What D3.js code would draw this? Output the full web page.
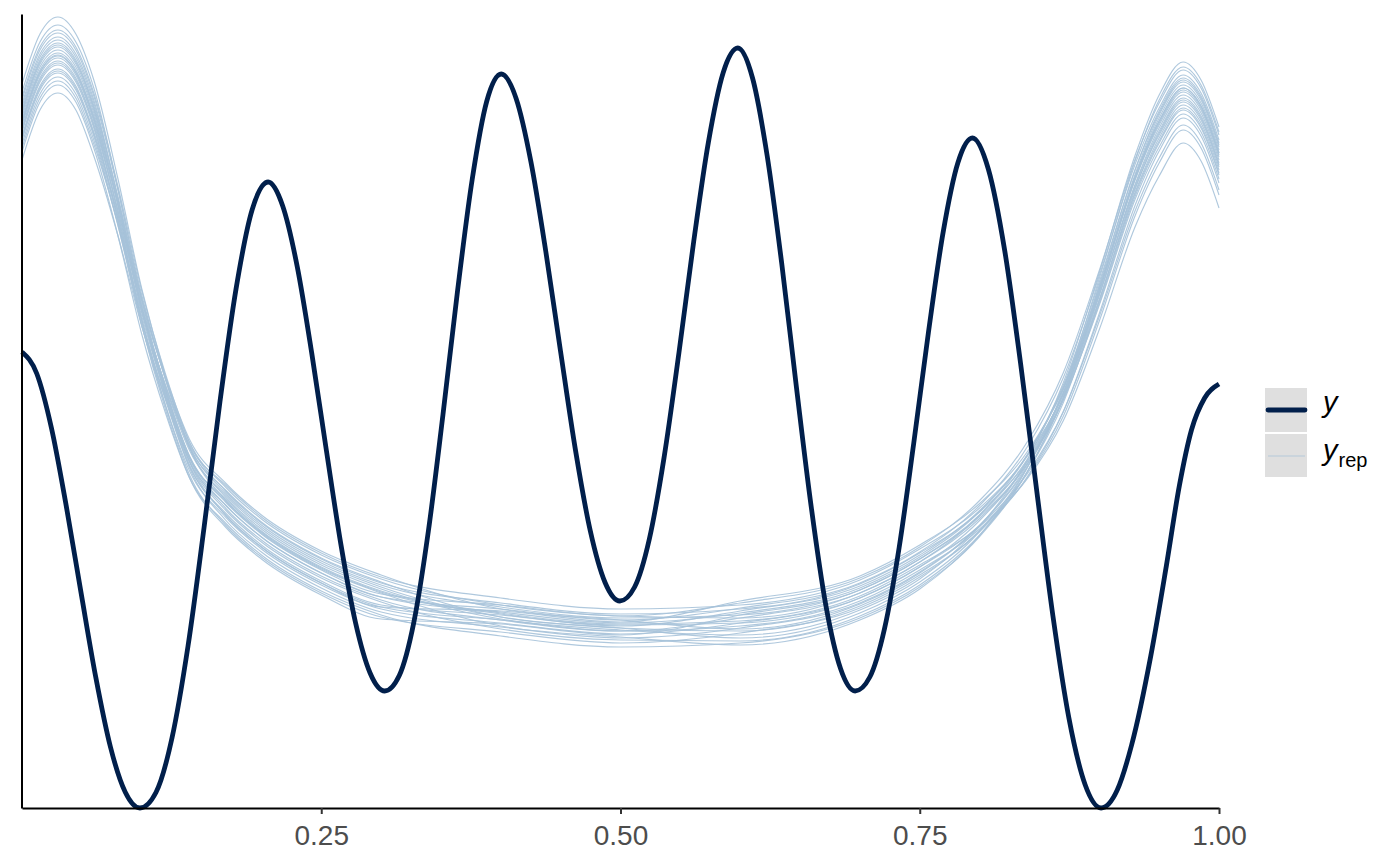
<!DOCTYPE html>
<html><head><meta charset="utf-8">
<script src="https://cdn.jsdelivr.net/npm/d3@7"></script>
<style>html,body{margin:0;padding:0;background:#fff;} svg{display:block;font-family:"Liberation Sans",Arial,sans-serif;}</style>
</head><body><svg id="chart" width="1400" height="865"></svg>
<script>
const xTicks = [0.25, 0.5, 0.75, 1.0];
const xTickLabels = ["0.25", "0.50", "0.75", "1.00"];
const legendLabels = ["y", "y", "rep"];

const obsX = [0,0.0123,0.0246,0.0369,0.0493,0.0616,0.0739,0.0862,0.0985,
  0.1119,0.1253,0.1387,0.1521,0.1654,0.1788,0.1922,0.2056,
  0.2178,0.2300,0.2421,0.2543,0.2665,0.2787,0.2908,0.3030,
  0.3152,0.3274,0.3395,0.3517,0.3639,0.3761,0.3882,0.4004,
  0.4128,0.4252,0.4376,0.4500,0.4623,0.4747,0.4871,0.4995,
  0.5118,0.5241,0.5364,0.5488,0.5611,0.5734,0.5857,0.5980,
  0.6103,0.6225,0.6348,0.6470,0.6593,0.6715,0.6838,0.6960,
  0.7083,0.7205,0.7328,0.7450,0.7573,0.7695,0.7818,0.7940,
  0.8074,0.8209,0.8343,0.8478,0.8612,0.8746,0.8881,0.9015,
  0.915,0.927,0.943,0.956,0.967,0.977,0.988,1.000];
const obsDensity = [0.912,0.869,0.760,0.605,0.431,0.262,0.122,0.032,0.000,
  0.031,0.140,0.324,0.561,0.813,1.038,1.196,1.252,
  1.204,1.082,0.909,0.715,0.526,0.370,0.270,0.234,
  0.265,0.372,0.554,0.787,1.035,1.257,1.413,1.468,
  1.419,1.292,1.113,0.912,0.717,0.555,0.451,0.414,
  0.442,0.538,0.701,0.910,1.132,1.331,1.470,1.520,
  1.460,1.305,1.087,0.841,0.603,0.406,0.279,0.234,
  0.262,0.358,0.521,0.730,0.952,1.151,1.290,1.340,
  1.277,1.116,0.888,0.633,0.385,0.180,0.047,0.000,
  0.036,0.126,0.304,0.484,0.646,0.756,0.820,0.848];

const repX = [0,0.015,0.03,0.045,0.06,0.08,0.1,0.12,0.14,0.17,0.2,0.25,0.3,0.4,0.5,0.6,0.7,0.75,0.8,0.84,0.87,0.9,0.93,0.95,0.97,0.985,1.0];
const rep01 = [1.448,1.548,1.582,1.548,1.456,1.260,1.039,0.862,0.720,0.616,0.552,0.480,0.432,0.388,0.366,0.370,0.420,0.482,0.575,0.693,0.831,1.035,1.258,1.370,1.436,1.400,1.306];
const rep02 = [1.432,1.532,1.566,1.532,1.440,1.240,1.016,0.836,0.692,0.586,0.522,0.450,0.402,0.376,0.354,0.380,0.430,0.492,0.586,0.706,0.846,1.052,1.277,1.390,1.456,1.420,1.326];
const rep03 = [1.416,1.516,1.550,1.516,1.424,1.237,1.026,0.856,0.720,0.622,0.558,0.486,0.438,0.378,0.356,0.346,0.396,0.458,0.563,0.697,0.851,1.071,1.306,1.426,1.492,1.456,1.362];
const rep04 = [1.408,1.508,1.542,1.508,1.416,1.220,0.999,0.822,0.680,0.576,0.512,0.440,0.392,0.362,0.340,0.360,0.410,0.472,0.565,0.683,0.821,1.025,1.248,1.360,1.426,1.390,1.296];
const rep05 = [1.396,1.496,1.530,1.496,1.404,1.224,1.020,0.856,0.724,0.630,0.566,0.494,0.446,0.402,0.380,0.386,0.436,0.498,0.583,0.689,0.816,1.009,1.224,1.330,1.396,1.360,1.266];
const rep06 = [1.388,1.488,1.522,1.488,1.396,1.212,1.004,0.837,0.702,0.606,0.542,0.470,0.422,0.398,0.376,0.400,0.450,0.512,0.605,0.723,0.861,1.065,1.288,1.400,1.466,1.430,1.336];
const rep07 = [1.382,1.482,1.516,1.482,1.390,1.205,0.996,0.828,0.693,0.596,0.532,0.460,0.412,0.358,0.336,0.334,0.384,0.446,0.546,0.673,0.820,1.034,1.263,1.380,1.446,1.410,1.316];
const rep08 = [1.376,1.476,1.510,1.476,1.384,1.212,1.016,0.858,0.731,0.642,0.578,0.506,0.458,0.406,0.384,0.380,0.430,0.492,0.579,0.689,0.819,1.015,1.232,1.340,1.406,1.370,1.276];
const rep09 = [1.372,1.472,1.506,1.472,1.380,1.190,0.976,0.804,0.666,0.566,0.502,0.430,0.382,0.352,0.330,0.350,0.400,0.462,0.555,0.673,0.811,1.015,1.238,1.350,1.416,1.380,1.286];
const rep10 = [1.366,1.466,1.500,1.466,1.374,1.197,0.996,0.834,0.704,0.612,0.548,0.476,0.428,0.406,0.384,0.410,0.460,0.522,0.615,0.733,0.871,1.075,1.298,1.410,1.476,1.440,1.346];
const rep11 = [1.360,1.460,1.494,1.460,1.368,1.196,1.000,0.842,0.715,0.626,0.562,0.490,0.442,0.382,0.360,0.354,0.404,0.466,0.553,0.663,0.793,0.989,1.206,1.314,1.380,1.344,1.250];
const rep12 = [1.352,1.452,1.486,1.452,1.360,1.181,0.978,0.815,0.683,0.590,0.526,0.454,0.406,0.386,0.364,0.394,0.444,0.506,0.595,0.707,0.840,1.038,1.257,1.366,1.432,1.396,1.302];
const rep13 = [1.344,1.444,1.478,1.444,1.352,1.187,0.997,0.845,0.721,0.636,0.572,0.500,0.452,0.382,0.360,0.340,0.390,0.452,0.553,0.682,0.831,1.046,1.277,1.394,1.460,1.424,1.330];
const rep14 = [1.336,1.436,1.470,1.436,1.344,1.167,0.966,0.804,0.674,0.582,0.518,0.446,0.398,0.370,0.348,0.370,0.420,0.482,0.565,0.669,0.793,0.983,1.195,1.300,1.366,1.330,1.236];
const rep15 = [1.328,1.428,1.462,1.428,1.336,1.167,0.974,0.819,0.693,0.606,0.542,0.470,0.422,0.392,0.370,0.390,0.440,0.502,0.593,0.707,0.842,1.043,1.264,1.374,1.440,1.404,1.310];
const rep16 = [1.320,1.420,1.454,1.420,1.328,1.171,0.990,0.844,0.726,0.646,0.582,0.510,0.462,0.420,0.398,0.406,0.456,0.518,0.600,0.704,0.827,1.017,1.229,1.334,1.400,1.364,1.270];
const rep17 = [1.312,1.412,1.446,1.412,1.320,1.146,0.948,0.789,0.660,0.570,0.506,0.434,0.386,0.344,0.322,0.330,0.380,0.442,0.543,0.673,0.822,1.037,1.268,1.386,1.452,1.416,1.322];
const rep18 = [1.296,1.396,1.430,1.396,1.304,1.146,0.964,0.818,0.699,0.618,0.554,0.482,0.434,0.390,0.368,0.374,0.424,0.486,0.563,0.659,0.775,0.957,1.163,1.264,1.330,1.294,1.200];
const rep19 = [1.402,1.502,1.536,1.502,1.410,1.221,1.008,0.837,0.699,0.600,0.536,0.464,0.416,0.376,0.354,0.364,0.414,0.476,0.558,0.661,0.784,0.974,1.185,1.290,1.356,1.320,1.226];
const rep20 = [1.356,1.456,1.490,1.456,1.364,1.177,0.966,0.796,0.660,0.562,0.498,0.426,0.378,0.368,0.346,0.386,0.436,0.498,0.586,0.698,0.829,1.027,1.245,1.354,1.420,1.384,1.290];
const rep21 = [1.422,1.522,1.556,1.522,1.430,1.245,1.035,0.867,0.731,0.634,0.570,0.498,0.450,0.410,0.388,0.398,0.448,0.510,0.592,0.694,0.817,1.006,1.218,1.322,1.388,1.352,1.258];
const rep22 = [1.340,1.440,1.474,1.440,1.348,1.178,0.984,0.828,0.702,0.614,0.550,0.478,0.430,0.364,0.342,0.326,0.376,0.438,0.545,0.681,0.837,1.059,1.295,1.416,1.482,1.446,1.352];
const rep23 = [1.392,1.492,1.526,1.492,1.400,1.210,0.996,0.824,0.686,0.586,0.522,0.450,0.402,0.394,0.372,0.414,0.464,0.526,0.609,0.713,0.838,1.028,1.241,1.346,1.412,1.376,1.282];
const rep24 = [1.370,1.470,1.504,1.470,1.378,1.210,1.017,0.862,0.737,0.650,0.586,0.514,0.466,0.398,0.376,0.358,0.408,0.470,0.565,0.687,0.828,1.035,1.260,1.374,1.440,1.404,1.310];
const yrepSeries = [rep01,rep02,rep03,rep04,rep05,rep06,rep07,rep08,rep09,rep10,rep11,rep12,rep13,rep14,rep15,rep16,rep17,rep18,rep19,rep20,rep21,rep22,rep23,rep24];

const colorY = "#011f4b";
const colorYrep = "#a6c2d9";

const svg = d3.select("#chart");
const x = d3.scaleLinear().domain([0, 1]).range([22, 1219]);
const y = d3.scaleLinear().domain([0, 1.588]).range([808, 14]);
const lineGen = d3.line().x(d => x(d[0])).y(d => y(d[1])).curve(d3.curveMonotoneX);

const gRep = svg.append("g");
yrepSeries.forEach(s => {
  gRep.append("path")
    .datum(repX.map((v, i) => [v, s[i]]))
    .attr("d", lineGen)
    .attr("fill", "none")
    .attr("stroke", colorYrep)
    .attr("stroke-opacity", 0.9)
    .attr("stroke-width", 1.15);
});

svg.append("path")
  .datum(obsX.map((v, i) => [v, obsDensity[i]]))
  .attr("d", lineGen)
  .attr("fill", "none")
  .attr("stroke", colorY)
  .attr("stroke-width", 4.8)
  .attr("stroke-linejoin", "round");

// axes
const xAxis = d3.axisBottom(x).tickValues(xTicks).tickFormat((d, i) => xTickLabels[i]).tickSize(6).tickSizeOuter(0);
const gx = svg.append("g").attr("transform", "translate(0,808)").call(xAxis);
gx.select(".domain").attr("stroke", "#000").attr("stroke-width", 2);
gx.selectAll(".tick line").attr("stroke", "#333").attr("stroke-width", 2);
gx.selectAll(".tick text").attr("y", 37).attr("dy", 0).attr("font-size", 28)
  .attr("fill", "#4d4d4d").attr("font-family", "'Liberation Sans', Arial, sans-serif");

const yAxis = d3.axisLeft(y).tickValues([]).tickSizeOuter(0);
const gy = svg.append("g").attr("transform", "translate(21.5,0)").call(yAxis);
gy.select(".domain").attr("stroke", "#000").attr("stroke-width", 2);

// legend
const lg = svg.append("g");
lg.append("rect").attr("x", 1265).attr("y", 388).attr("width", 42).attr("height", 44).attr("fill", "#dfdfdf");
lg.append("rect").attr("x", 1265).attr("y", 434).attr("width", 42).attr("height", 43).attr("fill", "#dfdfdf");
lg.append("line").attr("x1", 1268).attr("x2", 1305).attr("y1", 410).attr("y2", 410)
  .attr("stroke", colorY).attr("stroke-width", 4.8).attr("stroke-linecap", "round");
lg.append("line").attr("x1", 1268).attr("x2", 1305).attr("y1", 456).attr("y2", 456)
  .attr("stroke", colorYrep).attr("stroke-opacity", 0.7).attr("stroke-width", 1.2);
lg.append("text").attr("x", 1323).attr("y", 412).attr("font-size", 29).attr("font-style", "italic")
  .attr("fill", "#000").text(legendLabels[0]);
const t2 = lg.append("text").attr("x", 1323).attr("y", 460).attr("font-size", 29).attr("fill", "#000");
t2.append("tspan").attr("font-style", "italic").text(legendLabels[1]);
t2.append("tspan").attr("font-size", 20).attr("dy", 7).attr("dx", 1).text(legendLabels[2]);
</script>
</body></html>
